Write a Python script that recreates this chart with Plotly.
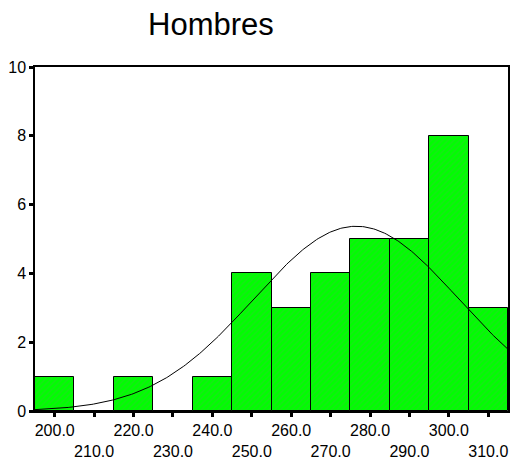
import numpy as np
import plotly.graph_objects as go

# Histogram bins (centres, width 10) and frequencies
bin_centers = [200, 210, 220, 230, 240, 250, 260, 270, 280, 290, 300, 310]
counts = [1, 0, 1, 0, 1, 4, 3, 4, 5, 5, 8, 3]
bin_width = 10

# Normal curve parameters
mean_val = 276.5
sd_val = 26.0
n_total = sum(counts)

# Axis labels
x_even_ticks = [200, 220, 240, 260, 280, 300]
x_odd_ticks = [210, 230, 250, 270, 290, 310]
y_ticks = [0, 2, 4, 6, 8, 10]

font_family = "Liberation Sans, Arial, sans-serif"

xs = np.linspace(195, 315, 300)
ys = n_total * bin_width / (sd_val * np.sqrt(2 * np.pi)) * np.exp(-0.5 * ((xs - mean_val) / sd_val) ** 2)

fig = go.Figure()
fig.add_trace(go.Bar(
    x=bin_centers, y=counts, width=bin_width,
    marker=dict(
        color="#00ff00",
        line=dict(color="black", width=1),
        pattern=dict(shape="/", fgcolor="#33cc33", bgcolor="#00ff00", size=4, solidity=0.35),
    ),
    showlegend=False, hoverinfo="skip",
))
fig.add_trace(go.Scatter(
    x=xs, y=ys, mode="lines", line=dict(color="black", width=1),
    showlegend=False, hoverinfo="skip",
))
# second axis carries the lower row of labels
fig.add_trace(go.Scatter(x=[None], y=[None], xaxis="x2", showlegend=False))

tick_font = dict(family=font_family, size=16, color="black")

fig.update_layout(
    width=510, height=459,
    margin=dict(l=35, r=2, t=67, b=48),
    paper_bgcolor="white", plot_bgcolor="white",
    bargap=0,
    title=dict(
        text="Hombres", x=0.372, xref="paper", xanchor="center",
        y=1 - 13 / 459, yref="container", yanchor="top",
        font=dict(family=font_family, size=31, color="black"),
    ),
    xaxis=dict(
        range=[195, 315], showgrid=False, zeroline=False, automargin=False,
        showline=True, linecolor="black", linewidth=1.5, mirror=True,
        tickmode="array",
        tickvals=x_even_ticks + x_odd_ticks,
        ticktext=[f"{v:.1f}" for v in x_even_ticks] + [""] * len(x_odd_ticks),
        ticks="outside", ticklen=4, tickwidth=3, tickcolor="black",
        tickfont=tick_font,
    ),
    xaxis2=dict(
        range=[195, 315], overlaying="x", side="bottom", anchor="y",
        showgrid=False, zeroline=False, showline=False, automargin=False,
        tickmode="array", tickvals=x_odd_ticks,
        ticktext=[f"{v:.1f}" for v in x_odd_ticks],
        ticks="", ticklabelstandoff=29, tickfont=tick_font,
    ),
    yaxis=dict(
        range=[0, 10], showgrid=False, zeroline=False, automargin=False,
        showline=True, linecolor="black", linewidth=1.5, mirror=True,
        tickmode="array", tickvals=y_ticks,
        ticks="outside", ticklen=4, tickwidth=3, tickcolor="black",
        tickfont=tick_font,
    ),
)

fig.write_html("out.html")
